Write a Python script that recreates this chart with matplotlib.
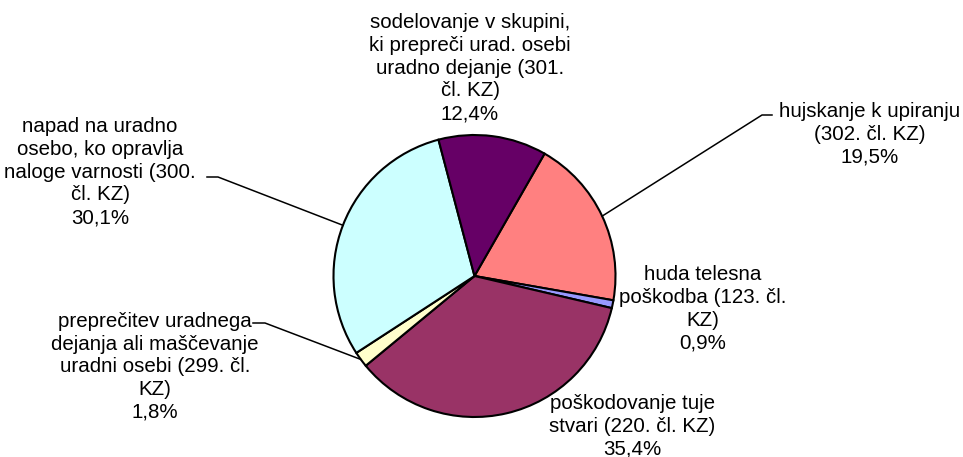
import numpy as np
import matplotlib
matplotlib.use("Agg")
import matplotlib.pyplot as plt

# slices, clockwise from the top-right boundary
labels = [
    "hujskanje k upiranju\n(302. čl. KZ)",
    "huda telesna\npoškodba (123. čl.\nKZ)",
    "poškodovanje tuje\nstvari (220. čl. KZ)",
    "preprečitev uradnega\ndejanja ali maščevanje\nuradni osebi (299. čl.\nKZ)",
    "napad na uradno\nosebo, ko opravlja\nnaloge varnosti (300.\nčl. KZ)",
    "sodelovanje v skupini,\nki prepreči urad. osebi\nuradno dejanje (301.\nčl. KZ)",
]
shares = [19.5, 0.9, 35.4, 1.8, 30.1, 12.4]
colors = ["#FF8080", "#9999FF", "#993366", "#FFFFCC", "#CCFFFF", "#660066"]

W, H = 963, 457
plt.rcParams["font.family"] = ["Liberation Sans", "DejaVu Sans"]

fig = plt.figure(figsize=(W / 100, H / 100), dpi=100)
ax = fig.add_axes([0, 0, 1, 1])

cx, cy, r = 474.5, H - 276, 141
wedges, _ = ax.pie(shares, colors=colors, startangle=60.2, counterclock=False,
                   center=(cx, cy), radius=r, frame=True,
                   wedgeprops=dict(edgecolor="black", linewidth=1.5))
ax.set_xlim(0, W)
ax.set_ylim(0, H)
ax.set_aspect("equal")
ax.axis("off")

# label centres in pixel coords (from top) and leader elbows
label_pos = [(870, 134), (703, 309), (632, 426), (155, 367), (100, 172), (470, 68)]
leaders = {0: [(762, 115), (772, 115)],
           3: [(265, 323), (253, 323)],
           4: [(218, 177), (207, 177)]}

for i, (w, lab, val) in enumerate(zip(wedges, labels, shares)):
    txt = lab + "\n" + f"{val:.1f}".replace(".", ",") + "%"
    x, y = label_pos[i]
    ax.text(x, H - y, txt, ha="center", va="center", fontsize=14.8,
            linespacing=1.25, color="black")
    if i in leaders:
        # leader starts on the rim at the middle of the slice
        mid = np.deg2rad((w.theta1 + w.theta2) / 2)
        px = cx + r * np.cos(mid)
        py = cy + r * np.sin(mid)
        pts = [(px, py)] + [(a, H - b) for a, b in leaders[i]]
        ax.plot([p[0] for p in pts], [p[1] for p in pts], color="black", lw=1.1)

fig.savefig("out.png", dpi=100)
